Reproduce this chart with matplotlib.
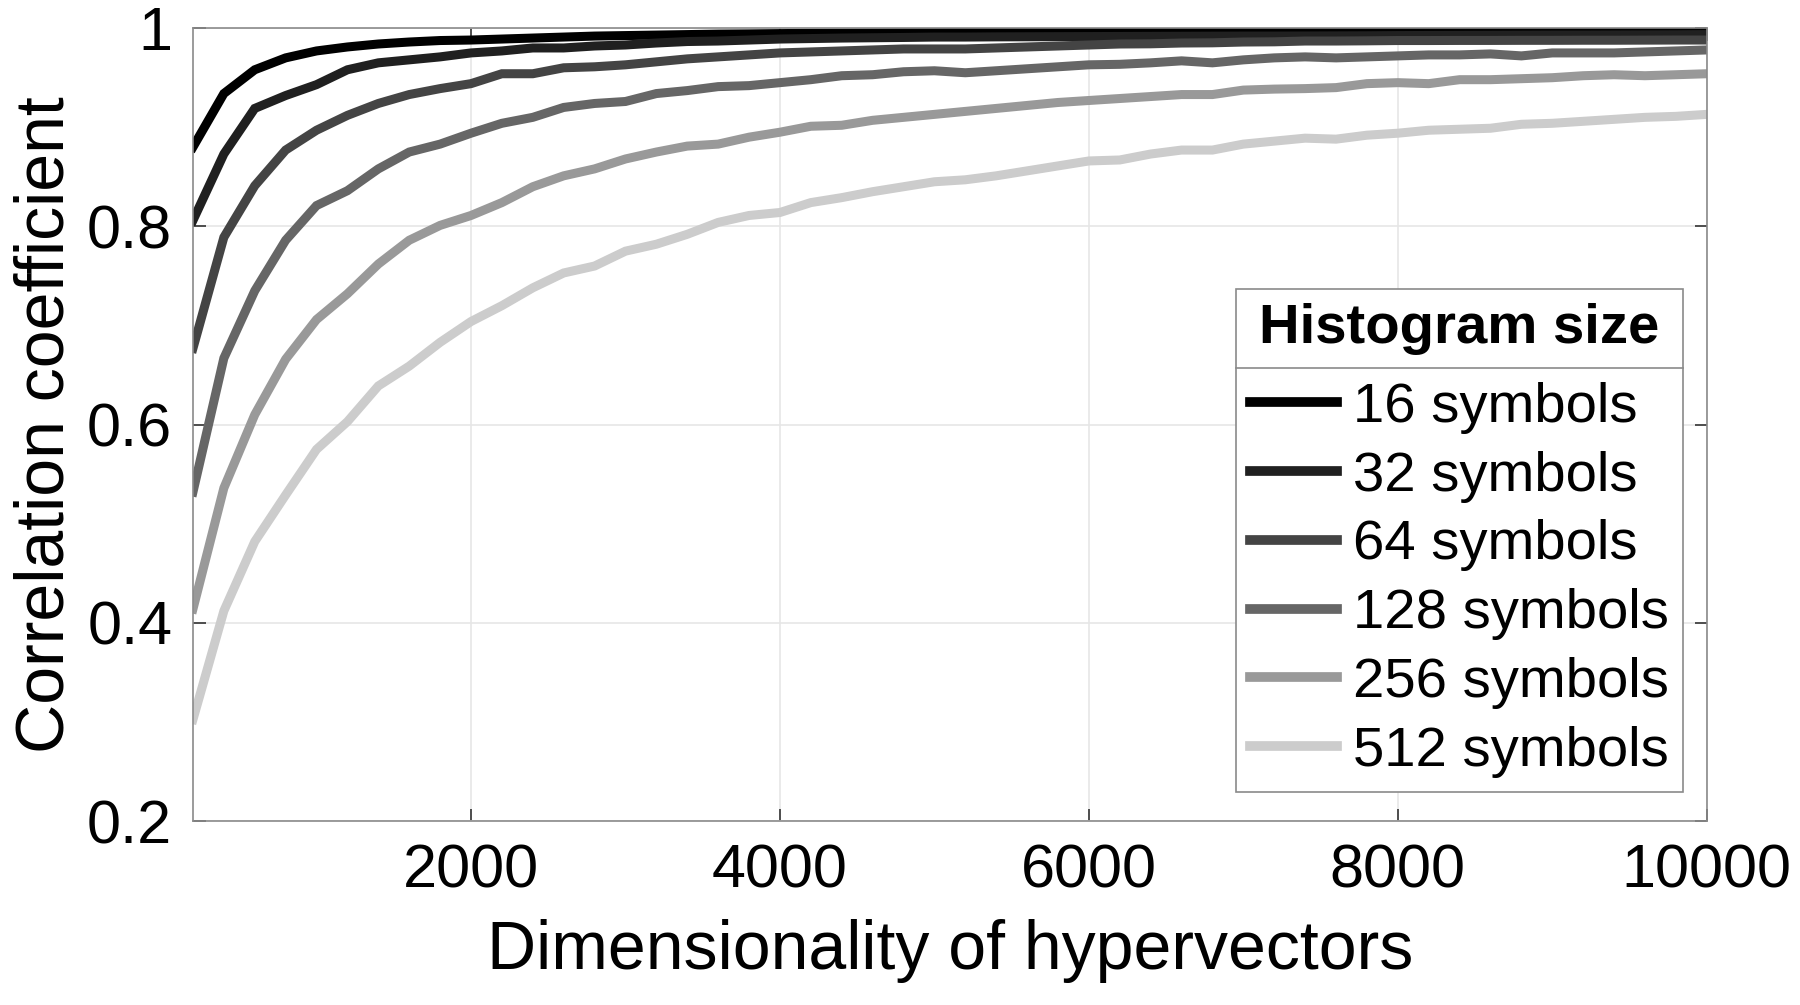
"""
Correlation coefficient vs. hypervector dimensionality, one curve per histogram size.
"""
import matplotlib
matplotlib.use("Agg")
import matplotlib.pyplot as plt
from matplotlib.lines import Line2D
from matplotlib.ticker import FuncFormatter

plt.rcParams["font.family"] = ["Liberation Sans", "DejaVu Sans"]

# dimensionality: 200 .. 10000 in steps of 200
dims = list(range(200, 10001, 200))

sizes = ["16 symbols", "32 symbols", "64 symbols",
         "128 symbols", "256 symbols", "512 symbols"]

corr_16 = [0.880, 0.934, 0.958, 0.970, 0.977, 0.981, 0.984, 0.986, 0.9875, 0.988,
           0.989, 0.990, 0.991, 0.992, 0.9925, 0.993, 0.9935, 0.994, 0.9942, 0.9945,
           0.9948, 0.995, 0.9952, 0.9954, 0.9955, 0.9957, 0.9958, 0.996, 0.996, 0.9961,
           0.9962, 0.9963, 0.9964, 0.9964, 0.9965, 0.9966, 0.9966, 0.9967, 0.9967, 0.9968,
           0.9968, 0.9969, 0.9969, 0.997, 0.997, 0.997, 0.9971, 0.9971, 0.9972, 0.9972]
corr_32 = [0.806, 0.873, 0.919, 0.932, 0.943, 0.958, 0.965, 0.968, 0.971, 0.975,
           0.977, 0.980, 0.980, 0.982, 0.983, 0.985, 0.9865, 0.987, 0.988, 0.989,
           0.9895, 0.990, 0.9903, 0.9906, 0.991, 0.991, 0.9912, 0.9913, 0.9914, 0.9915,
           0.9916, 0.9917, 0.9918, 0.9919, 0.992, 0.992, 0.9921, 0.9922, 0.9923, 0.9925,
           0.9926, 0.9927, 0.9928, 0.9929, 0.993, 0.993, 0.9931, 0.9932, 0.9933, 0.9935]
corr_64 = [0.677, 0.789, 0.841, 0.877, 0.897, 0.912, 0.924, 0.933, 0.939, 0.944,
           0.954, 0.954, 0.960, 0.961, 0.963, 0.966, 0.969, 0.971, 0.973, 0.975,
           0.976, 0.977, 0.978, 0.979, 0.979, 0.979, 0.980, 0.981, 0.982, 0.983,
           0.984, 0.9842, 0.985, 0.9852, 0.986, 0.9862, 0.987, 0.987, 0.9872, 0.9875,
           0.9875, 0.9876, 0.9876, 0.9877, 0.9877, 0.9878, 0.9878, 0.9879, 0.988, 0.988]
corr_128 = [0.532, 0.667, 0.735, 0.786, 0.821, 0.836, 0.858, 0.875, 0.883, 0.894,
            0.904, 0.910, 0.920, 0.924, 0.926, 0.934, 0.937, 0.941, 0.942, 0.945,
            0.948, 0.952, 0.953, 0.956, 0.957, 0.955, 0.957, 0.959, 0.961, 0.963,
            0.9635, 0.965, 0.967, 0.965, 0.968, 0.970, 0.971, 0.970, 0.971, 0.972,
            0.973, 0.973, 0.974, 0.972, 0.975, 0.975, 0.975, 0.976, 0.977, 0.978]
corr_256 = [0.414, 0.536, 0.610, 0.666, 0.706, 0.732, 0.762, 0.786, 0.801, 0.811,
            0.824, 0.840, 0.851, 0.858, 0.868, 0.875, 0.881, 0.883, 0.890, 0.895,
            0.901, 0.902, 0.907, 0.910, 0.913, 0.916, 0.919, 0.922, 0.925, 0.927,
            0.929, 0.931, 0.933, 0.933, 0.9375, 0.9385, 0.939, 0.940, 0.944, 0.945,
            0.944, 0.948, 0.948, 0.949, 0.950, 0.952, 0.953, 0.952, 0.953, 0.954]
corr_512 = [0.3025, 0.412, 0.482, 0.529, 0.575, 0.603, 0.639, 0.659, 0.683, 0.704,
            0.720, 0.738, 0.753, 0.760, 0.775, 0.782, 0.792, 0.804, 0.811, 0.814,
            0.824, 0.829, 0.835, 0.840, 0.845, 0.847, 0.851, 0.856, 0.861, 0.866,
            0.867, 0.873, 0.877, 0.877, 0.883, 0.886, 0.889, 0.888, 0.892, 0.894,
            0.897, 0.898, 0.899, 0.903, 0.904, 0.906, 0.908, 0.910, 0.911, 0.913]

series = [corr_16, corr_32, corr_64, corr_128, corr_256, corr_512]
grays = ["#000000", "#202020", "#444444", "#666666", "#999999", "#cccccc"]

fig = plt.figure(figsize=(18, 10.05), dpi=100)
ax = fig.add_axes([0.1072, 0.183, 0.841, 0.789])

for vals, lab, c in zip(series, sizes, grays):
    ax.plot(dims, vals, color=c, lw=6.5, label=lab, solid_joinstyle="miter")

ax.set_xlim(200, 10000)
ax.set_ylim(0.2, 1.0)
ax.set_xticks([2000, 4000, 6000, 8000, 10000])
ax.set_yticks([0.2, 0.4, 0.6, 0.8, 1.0])
ax.yaxis.set_major_formatter(FuncFormatter(lambda v, p: f"{v:g}"))

ax.grid(True, color="#e6e6e6", lw=1.2)
ax.set_axisbelow(True)
for s in ax.spines.values():
    s.set_color("#8a8a8a")
    s.set_linewidth(1.2)
ax.tick_params(direction="in", length=9, width=1.2, color="#333333",
               top=True, right=True, labelsize=44)
ax.tick_params(axis="x", pad=16)
ax.tick_params(axis="y", pad=15)

ax.set_xlabel("Dimensionality of hypervectors", fontsize=49, va="top")
ax.xaxis.set_label_coords(0.5, -0.1236)
ax.set_ylabel("Correlation coefficient", fontsize=49)
ax.yaxis.set_label_coords(-0.0766, 0.5)

leg = ax.legend(loc="lower right", bbox_to_anchor=(0.984, 0.0366), borderaxespad=0,
                prop=dict(size=40.5), title="Histogram size",
                title_fontproperties=dict(size=40.5, weight="bold"),
                handlelength=1.55, handletextpad=0.27, labelspacing=0.3,
                borderpad=0.25, fancybox=False, framealpha=1, edgecolor="#8a8a8a")
leg.get_frame().set_linewidth(1.2)
leg._legend_box.sep = 19  # a bit more room between title and entries
for h in leg.get_lines():
    h.set_linewidth(7)

# separator under the legend title
fig.canvas.draw()
fb = leg.get_frame().get_window_extent()
tb = leg.get_title().get_window_extent()
t0 = leg.get_texts()[0].get_window_extent()
ymid = (tb.y0 + t0.y1) / 2
inv = fig.transFigure.inverted()
(x0, ysep), (x1, _) = inv.transform([(fb.x0, ymid), (fb.x1, ymid)])
fig.add_artist(Line2D([x0, x1], [ysep, ysep], color="#8a8a8a", lw=1.2, zorder=10))

fig.savefig("out.png", dpi=100)
